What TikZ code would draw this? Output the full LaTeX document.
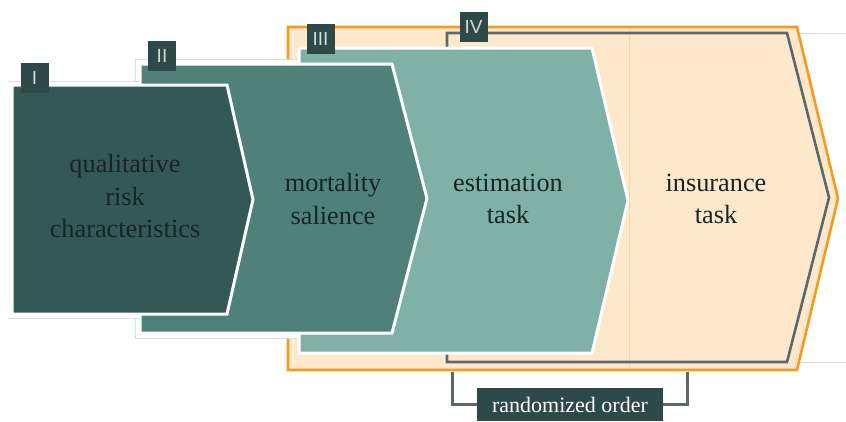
\documentclass[tikz,border=0pt]{standalone}
\usepackage{fontspec}
\setmainfont{Liberation Serif}
\setsansfont{Liberation Sans}
\definecolor{shI}{HTML}{345856}
\definecolor{shII}{HTML}{50807A}
\definecolor{shIII}{HTML}{7FB1A9}
\definecolor{peach}{HTML}{FDE8CB}
\definecolor{orng}{HTML}{F39C22}
\definecolor{grayfr}{HTML}{5E6869}
\definecolor{tagc}{HTML}{2E4A48}
\definecolor{tagtext}{HTML}{D3DBD9}
\definecolor{txt}{HTML}{172523}
\definecolor{contour}{HTML}{DCDCDC}
\definecolor{divider}{HTML}{F7D3A5}
\begin{document}
\begin{tikzpicture}[x=1pt,y=-1pt,
  chev/.style={line width=3pt, draw=white, line join=miter},
  container/.style={fill=white, draw=contour, line width=1pt},
  tagbox/.style={fill=tagc, text=tagtext, font=\sffamily\fontsize{19}{19}\selectfont,
    minimum width=28pt, minimum height=30pt, inner sep=0pt},
  lbl/.style={text=txt, align=center, inner sep=0pt, font=\fontsize{26.3}{32.5}\selectfont},
  brk/.style={draw=grayfr, line width=3pt}]
\useasboundingbox (0,0) rectangle (846,421);

% container of stage IV (light outline)
\draw[draw=contour, line width=1pt] (447,33) -- (860,33) (447,362) -- (860,362);

% orange frame (stages III + IV)
\draw[fill=peach, draw=orng, line width=2.6pt, line join=miter]
  (288,27) -- (797,27) -- (838,198.5) -- (797,370) -- (288,370) -- cycle;
\draw[white, line width=0.9pt] (293,32) -- (293,365);
\draw[divider, line width=0.8pt] (629,29) -- (629,368);

% gray frame (stage IV)
\draw[draw=grayfr, line width=2.6pt, line join=miter]
  (447,33) -- (787,33) -- (829,197.5) -- (787,362) -- (447,362) -- cycle;

% container of stage II
\draw[container] (395,59) -- (135,59) -- (135,338) -- (395,338);

% stage III chevron
\draw[chev, fill=shIII]
  (299,48) -- (592,48) -- (628,200.5) -- (592,353) -- (299,353) -- cycle;

% container of stage I
\draw[container] (232,81) -- (8,81) (8,318) -- (232,318);
\fill[white] (8,81.5) rectangle (232,317.5);

% stage II chevron
\draw[chev, fill=shII]
  (140,64) -- (392,64) -- (427,198.5) -- (392,333) -- (140,333) -- cycle;

% stage I chevron
\draw[chev, fill=shI]
  (12,85) -- (227,85) -- (253,199.5) -- (227,314) -- (12,314) -- cycle;

% texts
\node[lbl] (tI)   at (125,196) {qualitative\\risk\\characteristics};
\node[lbl] (tII)  at (333,199) {mortality\\salience};
\node[lbl] (tIII) at (508,199) {estimation\\task};
\node[lbl] (tIV)  at (716,199) {insurance\\task};

% stage tags
\node[tagbox] (gI)   at (34.5,78)  {I};
\node[tagbox] (gII)  at (162,56)   {II};
\node[tagbox] (gIII) at (320.5,39) {III};
\node[tagbox] (gIV)  at (473.5,26.5) {IV};

% randomized order bracket
\node[fill=tagc, text=white, minimum width=186pt, minimum height=33pt, inner sep=0pt,
  font=\fontsize{22}{22}\selectfont] (ro) at (570,404.5) {randomized order};
\coordinate (bl) at (452,371.5);
\coordinate (br) at (687,371.5);
\draw[brk] (bl) |- (ro.west);
\draw[brk] (br) |- (ro.east);
\end{tikzpicture}
\end{document}
